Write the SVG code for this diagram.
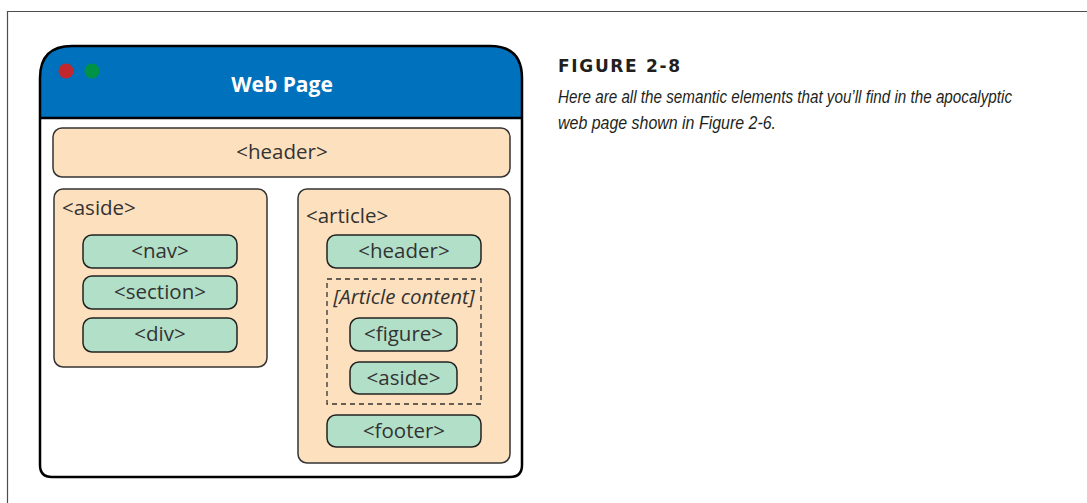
<svg xmlns="http://www.w3.org/2000/svg" width="1087" height="503" viewBox="0 0 1087 503">
<style>
.frame{fill:none;stroke:#4d4d4d;stroke-width:1.2}
.peach{fill:#fde0bd;stroke:#333;stroke-width:1.5}
.green{fill:#b2dfc8;stroke:#222;stroke-width:1.5}
.lbl{font-family:"Open Sans","DejaVu Sans",sans-serif;font-size:20.5px;fill:#333;text-anchor:middle}
.lbll{font-family:"Open Sans","DejaVu Sans",sans-serif;font-size:20.5px;fill:#333}
.dash{fill:none;stroke:#333;stroke-width:1.3;stroke-dasharray:5,4}
.cap{font-family:"Liberation Sans",Arial,sans-serif;font-size:18px;font-style:italic;fill:#231f20}
</style>
<rect width="1087" height="503" fill="#fff"/>
<path class="frame" d="M7.5,503 V11.5 H1087"/>
<g id="window">
<path d="M40,118 V78 Q40,46 72,46 H490 Q522,46 522,78 V118 Z" fill="#0071bc"/>
<path d="M40,118 H522 V465 Q522,477 510,477 H52 Q40,477 40,465 Z" fill="#fff"/>
<path d="M40,118 V78 Q40,46 72,46 H490 Q522,46 522,78 V465 Q522,477 510,477 H52 Q40,477 40,465 Z" fill="none" stroke="#000" stroke-width="2.5"/>
<line x1="40" y1="118" x2="522" y2="118" stroke="#000" stroke-width="2.5"/>
<circle cx="66" cy="71" r="7.5" fill="#c1272d"/>
<circle cx="92" cy="71" r="7.5" fill="#009245"/>
<text x="282" y="92" font-family="'Open Sans','DejaVu Sans',sans-serif" font-size="21" font-weight="bold" fill="#fff" text-anchor="middle">Web Page</text>
</g>
<g id="page-header">
<rect class="peach" x="53" y="128" width="457" height="49" rx="9"/>
<text class="lbl" x="282" y="159">&lt;header&gt;</text>
</g>
<g id="aside">
<rect class="peach" x="54" y="189" width="213" height="178" rx="9"/>
<text class="lbll" x="62" y="215">&lt;aside&gt;</text>
</g>
<g id="nav">
<rect class="green" x="83" y="235" width="154" height="33" rx="9"/>
<text class="lbl" x="160" y="258">&lt;nav&gt;</text>
</g>
<g id="section">
<rect class="green" x="83" y="276" width="154" height="33" rx="9"/>
<text class="lbl" x="160" y="299">&lt;section&gt;</text>
</g>
<g id="div">
<rect class="green" x="83" y="318" width="154" height="34" rx="9"/>
<text class="lbl" x="160" y="341">&lt;div&gt;</text>
</g>
<g id="article">
<rect class="peach" x="298" y="189" width="212" height="274" rx="9"/>
<text class="lbll" x="306" y="223">&lt;article&gt;</text>
</g>
<g id="article-header">
<rect class="green" x="327" y="235" width="154" height="33" rx="9"/>
<text class="lbl" x="404" y="258">&lt;header&gt;</text>
</g>
<g id="article-content">
<rect class="dash" x="327" y="279" width="154" height="125"/>
<text class="lbl" x="404" y="304" font-style="italic">[Article content]</text>
</g>
<g id="figure">
<rect class="green" x="350" y="318" width="107" height="33" rx="9"/>
<text class="lbl" x="403.5" y="341">&lt;figure&gt;</text>
</g>
<g id="inner-aside">
<rect class="green" x="350" y="362" width="107" height="32" rx="9"/>
<text class="lbl" x="403.5" y="385">&lt;aside&gt;</text>
</g>
<g id="footer">
<rect class="green" x="327" y="415" width="154" height="32" rx="9"/>
<text class="lbl" x="404" y="438">&lt;footer&gt;</text>
</g>
<g id="caption">
<text x="558" y="72" font-family="'DejaVu Sans','Open Sans',sans-serif" font-size="17" font-weight="bold" fill="#231f20" textLength="122" lengthAdjust="spacing">FIGURE 2-8</text>
<text class="cap" x="558" y="103" textLength="454" lengthAdjust="spacingAndGlyphs">Here are all the semantic elements that you’ll find in the apocalyptic</text>
<text class="cap" x="558" y="129" textLength="218" lengthAdjust="spacingAndGlyphs">web page shown in Figure 2-6.</text>
</g>
<g id="connectors"></g>
</svg>
